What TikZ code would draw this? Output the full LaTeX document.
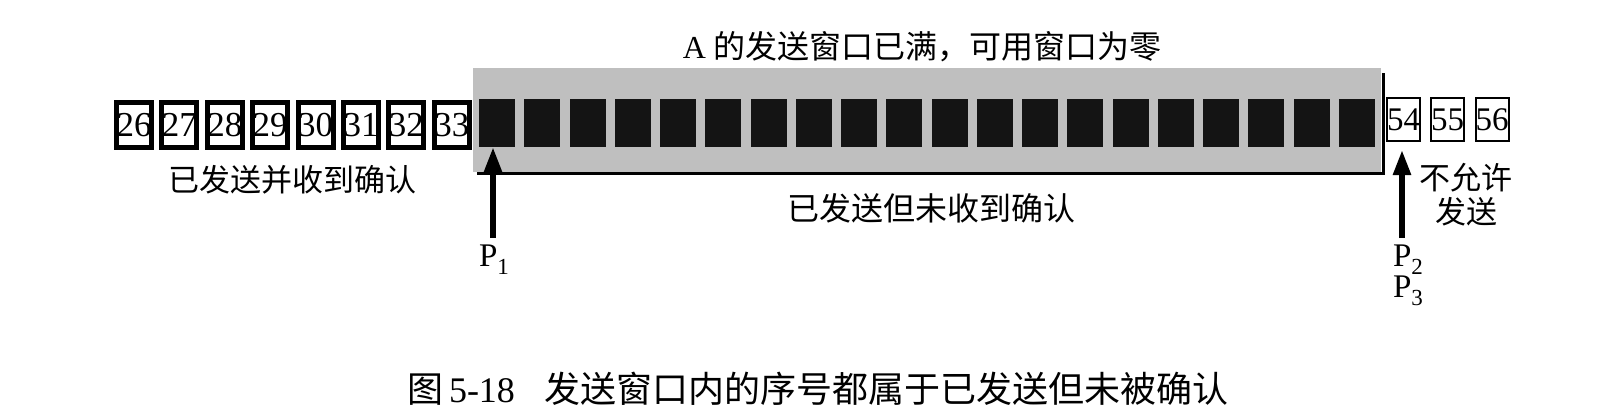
\documentclass[tikz,border=0pt]{standalone}
\usepackage{fontspec}
\setmainfont{Liberation Serif}
\newfontfamily\cjk{Noto Sans CJK SC}
\usetikzlibrary{arrows.meta}
\newcommand{\mysub}[1]{\raisebox{-8pt}{\fontsize{23}{23}\selectfont #1}}
\begin{document}
\begin{tikzpicture}[x=1pt,y=-1pt,
 ackbox/.style={draw=black,line width=5pt,minimum width=33pt,minimum height=45pt,inner sep=0pt,font=\fontsize{35}{35}\selectfont},
 sentbox/.style={fill=black!92,minimum width=36pt,minimum height=48pt,inner sep=0pt},
 freebox/.style={draw=black,line width=2pt,minimum width=31pt,minimum height=43pt,inner sep=0pt,font=\fontsize{33}{33}\selectfont},
 lbl/.style={font=\cjk\fontsize{31}{34}\selectfont,inner sep=0pt,align=center},
 ptr/.style={line width=5.5pt,-{Triangle[length=25pt,width=17pt]}},
 plbl/.style={font=\fontsize{33}{26}\selectfont,inner sep=0pt,align=center}]
\useasboundingbox (0,0) rectangle (1618,410);
\fill[white] (0,0) rectangle (1618,410);
% send window
\fill[black!25] (473,68) rectangle (1381,172);
\draw[line width=3pt] (477,173) -- (1383,173) -- (1383,73);
% acknowledged
\foreach \n [count=\i from 0] in {26,...,33}
  \node[ackbox] (b\n) at ({134+45.4*\i},125) {\n};
% sent, not acknowledged
\foreach \n [count=\i from 0] in {34,...,53}
  \node[sentbox] (b\n) at ({497+45.26*\i},123) {};
% not allowed
\node[freebox] (b54) at (1403.5,119.5) {54};
\node[freebox] (b55) at (1447.5,119.5) {55};
\node[freebox] (b56) at (1492,119.5) {56};
% texts
\node[lbl,font=\cjk\fontsize{32}{34}\selectfont] (title) at (922,47) {{\rmfamily A} 的发送窗口已满，可用窗口为零};
\node[lbl] (acked) at (292,180) {已发送并收到确认};
\node[lbl,font=\cjk\fontsize{32}{34}\selectfont] (sent) at (931,208) {已发送但未收到确认};
\node[lbl] (forbid) at (1466,195) {不允许\\发送};
% pointers
\node[plbl] (p1) at (494,260) {P\mysub{1}};
\node[plbl] (p23) at (1408,275) {P\mysub{2}\\P\mysub{3}};
\coordinate (t1) at (493,238);
\coordinate (t2) at (1402,238);
\draw[ptr] (t1) -- (t1 |- b34.south);
\draw[ptr] (t2) -- ([yshift=-8pt]t2 |- b54.south);
% caption
\node[inner sep=0pt,font=\cjk\fontsize{36}{36}\selectfont] (cap) at (818,389)
  {图\,{\rmfamily 5-18}\hspace{30pt}发送窗口内的序号都属于已发送但未被确认};
\end{tikzpicture}
\end{document}
